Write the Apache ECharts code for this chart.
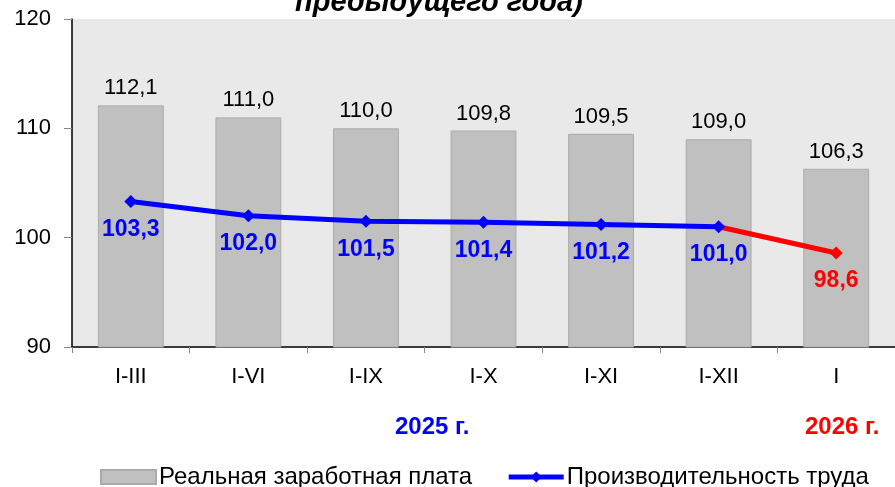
<!DOCTYPE html>
<html>
<head>
<meta charset="utf-8">
<script src="https://cdn.jsdelivr.net/npm/echarts@6/dist/echarts.min.js"></script>
<style>
    html, body { margin: 0; padding: 0; background: #fff; }
    #chart { width: 895px; height: 487px; }
</style>
</head>
<body>
<div id="chart"></div>
<script>
// данные
const periods = ['I-III', 'I-VI', 'I-IX', 'I-X', 'I-XI', 'I-XII', 'I'];
const realWage = [112.1, 111.0, 110.0, 109.8, 109.5, 109.0, 106.3];
const productivity2025 = [103.3, 102.0, 101.5, 101.4, 101.2, 101.0, '-'];
const productivity2026 = ['-', '-', '-', '-', '-', 101.0, 98.6];
const yTicks = [90, 100, 110, 120];

const colors = {
    bar: '#c0c0c0',
    barBorder: '#ababab',
    plotBg: '#e9e9e9',
    blue: '#0000ff',
    red: '#ff0000'
};

const fontFamily = 'Liberation Sans, Arial, sans-serif';
const fmt = v => v.toFixed(1).replace('.', ',');

const chart = echarts.init(document.getElementById('chart'));

const option = {
    backgroundColor: '#fff',
    textStyle: { fontFamily: fontFamily },
    animation: false,
    grid: {
        left: 72,
        right: -3,
        top: 19,
        bottom: 140,
        show: true,
        backgroundColor: colors.plotBg,
        borderWidth: 0
    },
    graphic: [
        {
            type: 'text',
            left: 295,
            top: -12,
            style: {
                text: 'предыдущего года)',
                font: 'italic bold 29px ' + fontFamily,
                fill: '#000'
            }
        },
        {
            type: 'text',
            left: 395,
            top: 415,
            style: {
                text: '2025 г.',
                font: 'bold 24px ' + fontFamily,
                fill: colors.blue
            }
        },
        {
            type: 'text',
            left: 805,
            top: 415,
            style: {
                text: '2026 г.',
                font: 'bold 24px ' + fontFamily,
                fill: colors.red
            }
        }
    ],
    legend: {
        left: 95,
        top: 460,
        itemWidth: 55,
        itemHeight: 14,
        itemGap: 34,
        textStyle: { fontSize: 24, color: '#000', padding: [0, 0, 0, -2] },
        data: [
            { name: 'Реальная заработная плата', icon: 'rect' },
            {
                name: 'Производительность труда',
                itemStyle: { color: colors.blue },
                lineStyle: { width: 5, color: colors.blue }
            }
        ]
    },
    xAxis: {
        type: 'category',
        data: periods,
        axisLine: { lineStyle: { color: '#000', width: 1.5 } },
        axisTick: { show: true, length: 6, lineStyle: { color: '#888' } },
        axisLabel: { fontSize: 22, color: '#000', margin: 19 }
    },
    yAxis: {
        type: 'value',
        min: yTicks[0],
        max: yTicks[yTicks.length - 1],
        interval: 10,
        splitLine: { show: false },
        axisLine: { show: true, lineStyle: { color: '#000', width: 1.5 } },
        axisTick: { show: true, length: 8, lineStyle: { color: '#888' } },
        axisLabel: { fontSize: 22, color: '#000', margin: 21 }
    },
    series: [
        {
            name: 'Реальная заработная плата',
            type: 'bar',
            data: realWage,
            barWidth: '56%',
            itemStyle: {
                color: colors.bar,
                borderColor: colors.barBorder,
                borderWidth: 1
            },
            label: {
                show: true,
                position: 'top',
                distance: 6,
                fontSize: 22,
                color: '#000',
                formatter: p => fmt(p.value)
            }
        },
        {
            name: 'Производительность труда 2026',
            type: 'line',
            data: productivity2026.map((v, i) => i === 5 ? { value: v, symbol: 'none', label: { show: false } } : v),
            z: 3,
            symbol: 'diamond',
            symbolSize: 13,
            lineStyle: { color: colors.red, width: 5 },
            itemStyle: { color: colors.red },
            label: {
                show: true,
                position: 'bottom',
                distance: 10,
                fontSize: 23,
                fontWeight: 'bold',
                color: colors.red,
                formatter: p => fmt(p.value)
            }
        },
        {
            name: 'Производительность труда',
            type: 'line',
            data: productivity2025,
            z: 4,
            symbol: 'diamond',
            symbolSize: 13,
            lineStyle: { color: colors.blue, width: 5 },
            itemStyle: { color: colors.blue },
            label: {
                show: true,
                position: 'bottom',
                distance: 10,
                fontSize: 23,
                fontWeight: 'bold',
                color: colors.blue,
                formatter: p => fmt(p.value)
            }
        }
    ]
};

chart.setOption(option);
</script>
</body>
</html>
